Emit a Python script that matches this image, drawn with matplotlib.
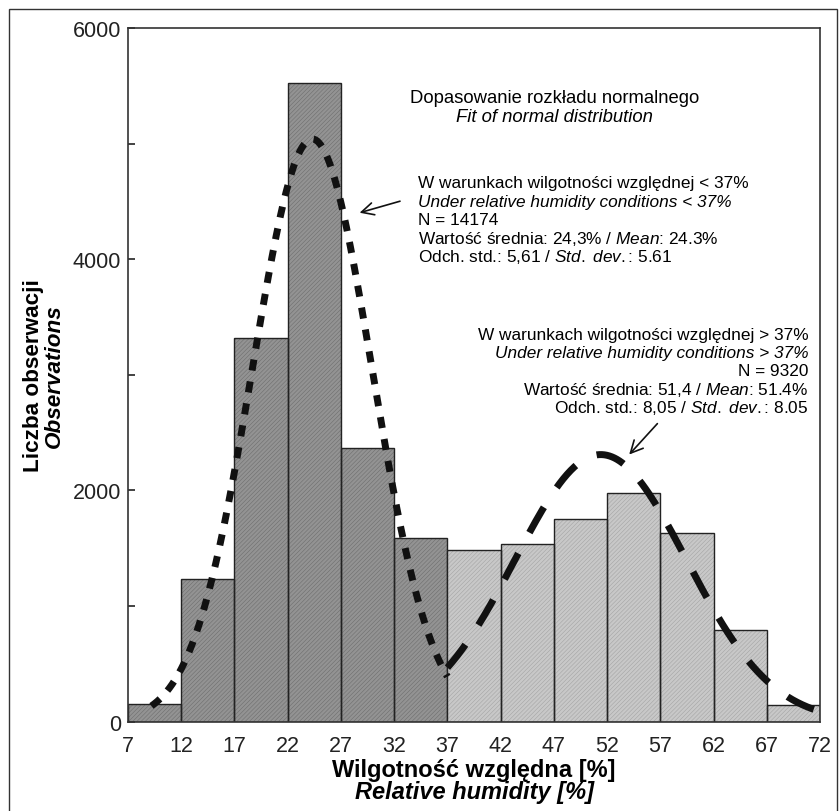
import numpy as np
import matplotlib
matplotlib.use('Agg')
import matplotlib.pyplot as plt
from matplotlib.patches import Rectangle

plt.rcParams['font.family'] = ['Liberation Sans', 'DejaVu Sans']
plt.rcParams['mathtext.fontset'] = 'custom'
plt.rcParams['mathtext.rm'] = 'Liberation Sans'
plt.rcParams['mathtext.it'] = 'Liberation Sans:italic'

# histogram bins (relative humidity, %) and counts
bin_edges = [7, 12, 17, 22, 27, 32, 37, 42, 47, 52, 57, 62, 67, 72]
counts_low = [150, 1230, 3320, 5520, 2370, 1590]          # 7-37 %
counts_high = [1480, 1540, 1750, 1980, 1630, 790, 140]    # 37-72 %

# fitted normal distributions
n_low, mean_low, sd_low = 14174, 24.3, 5.61
n_high, mean_high, sd_high = 9320, 51.4, 8.05
bin_width = 5

xticks = bin_edges
yticks = [0, 2000, 4000, 6000]


def normal_counts(x, n, mu, sd):
    return n * bin_width / (sd * np.sqrt(2 * np.pi)) * np.exp(-0.5 * ((x - mu) / sd) ** 2)


def hatched_bars(ax, lefts, heights, face, hatch_col):
    # fill with a fine hatch first, then the dark outline on top
    ax.bar(lefts, heights, width=bin_width, align='edge', facecolor=face,
           edgecolor=hatch_col, linewidth=0, hatch='////////')
    ax.bar(lefts, heights, width=bin_width, align='edge', fill=False,
           edgecolor='#222222', linewidth=1.0)


fig = plt.figure(figsize=(8.4, 8.12), dpi=100)
ax = fig.add_axes([0.1524, 0.1102, 0.8238, 0.8541])

# outer frame round the whole figure
fig.patches.append(Rectangle((9 / 840, -0.01), 828 / 840, 1 - 10 / 812 + 0.01,
                             transform=fig.transFigure, fill=False,
                             edgecolor='#333333', linewidth=1.0))

plt.rcParams['hatch.linewidth'] = 0.4
left_edges = np.array(bin_edges[:-1])
hatched_bars(ax, left_edges[:6], counts_low, '#939393', '#6e6e6e')
hatched_bars(ax, left_edges[6:], counts_high, '#c8c8c8', '#a4a4a4')

# fitted curves
xa = np.linspace(9.2, 37, 300)
ax.plot(xa, normal_counts(xa, n_low, mean_low, sd_low), color='#111111',
        linewidth=5, linestyle=(0, (1.6, 1.6)), dash_capstyle='butt')
xb = np.linspace(37, 72, 300)
ax.plot(xb, normal_counts(xb, n_high, mean_high, sd_high), color='#111111',
        linewidth=5, linestyle=(0, (4.2, 3.4)), dash_capstyle='butt')

ax.set_xlim(7, 72)
ax.set_ylim(0, 6000)
ax.set_xticks(xticks)
ax.set_yticks(yticks)
ax.set_yticks(range(0, 6001, 1000), minor=True)
ax.tick_params(axis='both', which='both', direction='in', labelsize=15.5,
               length=5, width=1.2, colors='#222222', pad=5)
ax.tick_params(axis='x', length=0, pad=10)
for s in ax.spines.values():
    s.set_linewidth(1.2)
    s.set_color('#333333')

ax.text(0.5, -0.0696, 'Wilgotność względna [%]', transform=ax.transAxes, ha='center',
        va='center', fontsize=17, fontweight='bold')
ax.text(0.5, -0.101, 'Relative humidity [%]', transform=ax.transAxes, ha='center',
        va='center', fontsize=17, fontweight='bold', style='italic')
ax.text(-0.136, 0.5, 'Liczba obserwacji', transform=ax.transAxes, rotation=90,
        ha='center', va='center', fontsize=16.2, fontweight='bold')
ax.text(-0.106, 0.5, 'Observations', transform=ax.transAxes, rotation=90,
        ha='center', va='center', fontsize=16.2, fontweight='bold', style='italic')

# title inside the plot
ft = 13.3
ax.text(47.05, 5400, 'Dopasowanie rozkładu normalnego', ha='center', va='center', fontsize=ft)
ax.text(47.05, 5235, 'Fit of normal distribution', ha='center', va='center',
        fontsize=ft, style='italic')

fs = 12.4
# annotation for the low-humidity fit
y0, dy = 4660, 158
x0 = 34.2
ax.text(x0, y0, 'W warunkach wilgotności względnej < 37%', fontsize=fs, va='center')
ax.text(x0, y0 - dy, 'Under relative humidity conditions < 37%', fontsize=fs,
        va='center', style='italic')
ax.text(x0, y0 - 2 * dy, 'N = 14174', fontsize=fs, va='center')
ax.text(x0, y0 - 3 * dy, 'Wartość średnia: 24,3% / $\\mathit{Mean}$: 24.3%', fontsize=fs, va='center')
ax.text(x0, y0 - 4 * dy, 'Odch. std.: 5,61 / $\\mathit{Std.\\ dev.}$: 5.61', fontsize=fs, va='center')
ax.annotate('', xy=(28.5, 4395), xytext=(32.8, 4508),
            arrowprops=dict(arrowstyle='->', color='#111111', lw=1.2, mutation_scale=22))

# annotation for the high-humidity fit
y1 = 3350
x1r = 70.9
ax.text(x1r, y1, 'W warunkach wilgotności względnej > 37%', fontsize=fs, va='center', ha='right')
ax.text(x1r, y1 - dy, 'Under relative humidity conditions > 37%', fontsize=fs,
        va='center', ha='right', style='italic')
ax.text(x1r, y1 - 2 * dy, 'N = 9320', fontsize=fs, va='center', ha='right')
ax.text(x1r, y1 - 3 * dy, 'Wartość średnia: 51,4 / $\\mathit{Mean}$: 51.4%', fontsize=fs,
        va='center', ha='right')
ax.text(x1r, y1 - 4 * dy, 'Odch. std.: 8,05 / $\\mathit{Std.\\ dev.}$: 8.05', fontsize=fs,
        va='center', ha='right')
ax.annotate('', xy=(53.9, 2292), xytext=(56.9, 2595),
            arrowprops=dict(arrowstyle='->', color='#111111', lw=1.2, mutation_scale=22))

fig.savefig('out.png', dpi=100)
